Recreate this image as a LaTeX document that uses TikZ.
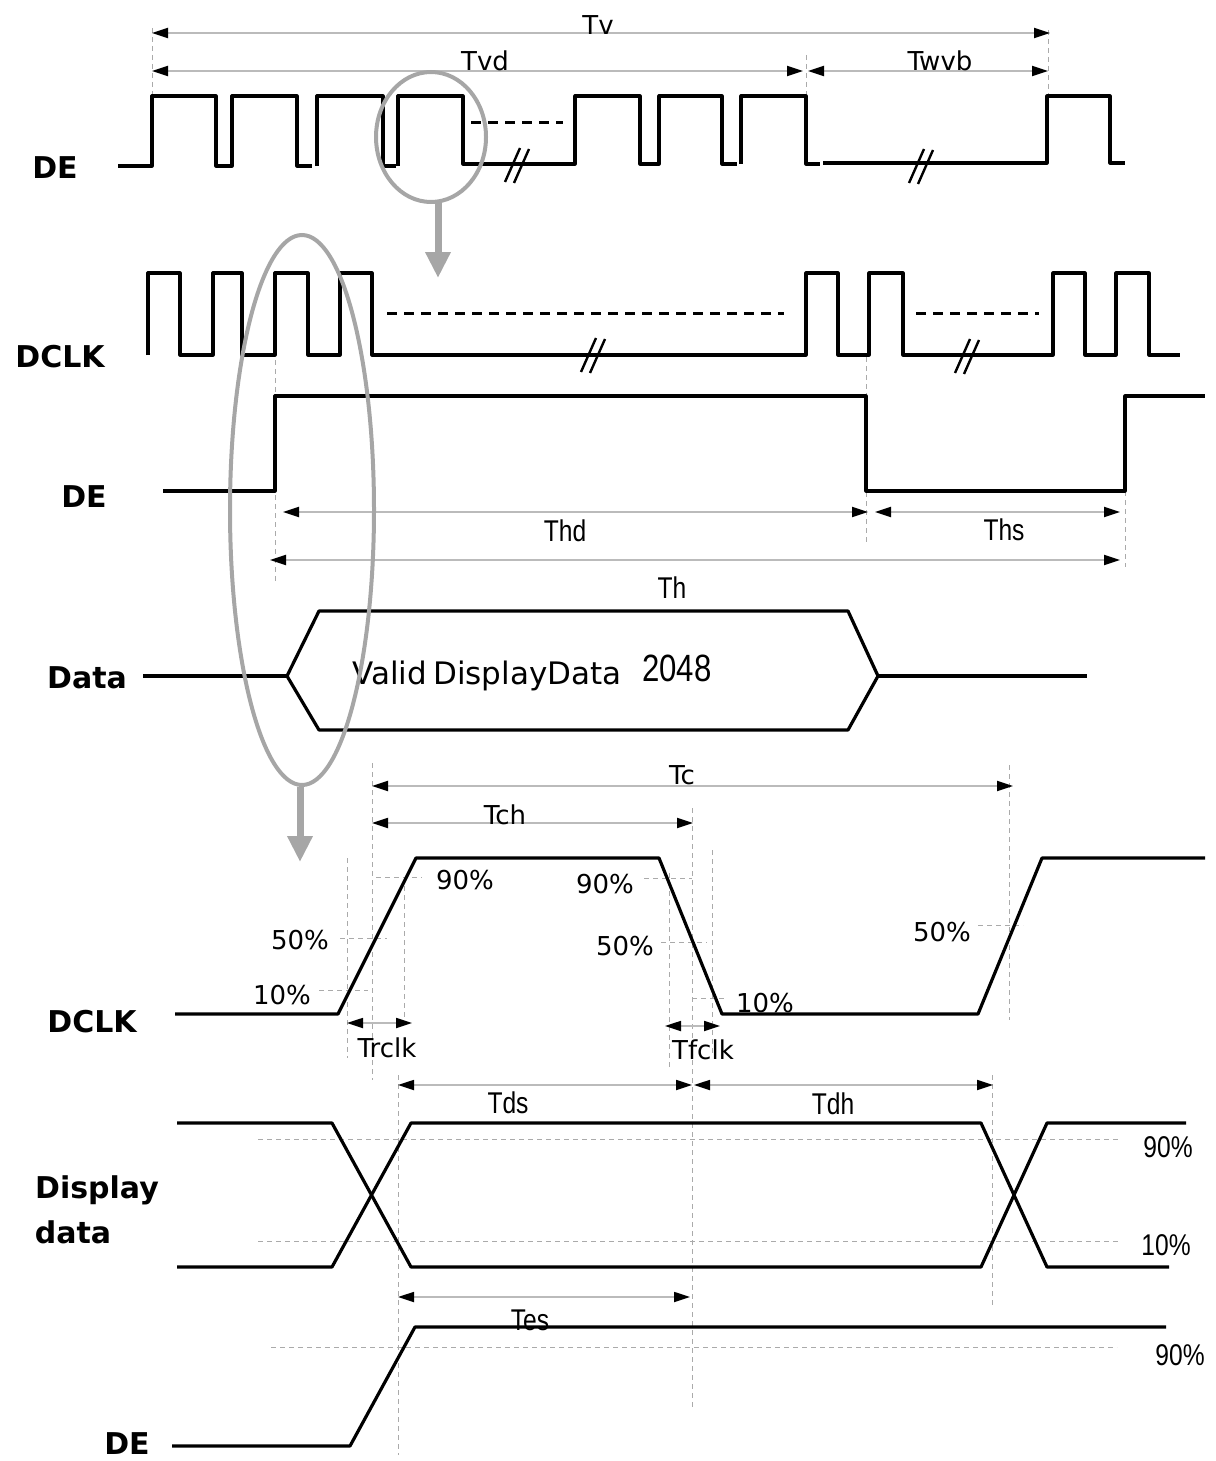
\documentclass[tikz,border=0pt]{standalone}
\usepackage{fontspec}
\usepackage{graphicx}
\usetikzlibrary{arrows.meta}
\newfontfamily\labfont{DejaVu Sans}
\newfontfamily\narfont{Liberation Sans}
\newcommand{\cond}[1]{\scalebox{0.82}[1]{#1}}
\definecolor{dimgray}{HTML}{BBBBBB}
\definecolor{guidegray}{HTML}{AAAAAA}
\definecolor{hiligray}{HTML}{A6A6A6}
\tikzset{
  sig/.style={line width=1.6pt, line join=round, line cap=butt},
  dimline/.style={draw=dimgray, line width=0.9pt,
    {Triangle[length=8pt,width=5pt,color=black]}-{Triangle[length=8pt,width=5pt,color=black]}},
  guide/.style={draw=guidegray, line width=0.45pt, dash pattern=on 2.5pt off 2pt},
  dashsig/.style={line width=1.5pt, dash pattern=on 5pt off 3.5pt},
  hilite/.style={draw=hiligray, line width=2pt},
  zoomarrow/.style={draw=hiligray, line width=3.5pt, -{Triangle[length=13pt,width=12pt]}},
  brk/.style={line width=1.2pt},
  siglabel/.style={font=\labfont\bfseries\fontsize{15}{17}\selectfont, inner sep=0pt},
  tlabel/.style={font=\labfont\fontsize{13}{15}\selectfont, inner sep=0pt},
  nlabel/.style={font=\narfont\fontsize{15}{17}\selectfont, inner sep=0pt},
}
\newcommand{\brkmark}[2]{%
  \draw[brk] (#1-13,#2+17) -- (#1+2,#2-17);
  \draw[brk] (#1-4,#2+18) -- (#1+11,#2-16);}
\begin{document}
\begin{tikzpicture}[x=0.5pt,y=-0.5pt]
\useasboundingbox (0,0) rectangle (1215,1461);

% ================= top DE (frame) =================
\node[siglabel] (lDE1) at (55,168) {DE};
\draw[guide] (152,28) -- (152,95);
\draw[guide] (806,55) -- (806,95);
\draw[guide] (1048,30) -- (1048,95);
\draw[dimline] (152,33) coordinate (tvA) -- (1050,33) coordinate (tvB);
\draw[dimline] (152,71) coordinate (tvdA) -- (803,71) coordinate (tvdB);
\draw[dimline] (808,71) coordinate (twA) -- (1048,71) coordinate (twB);
\node[tlabel] (lTv) at (598,25) {Tv};
\node[tlabel] (lTvd) at (485,61) {Tvd};
\node[tlabel] (lTwvb) at (940,61) {Twvb};

\draw[sig] (118,166) -- (152,166) -- (152,96) -- (216,96) -- (216,166) -- (232,166) -- (232,96)
  -- (297,96) -- (297,166) -- (312,166);
\draw[sig] (317,166) -- (317,96) -- (383,96) -- (383,166) -- (396,166);
\draw[sig] (398,166) -- (398,96) -- (463,96) -- (463,164) -- (575,164) -- (575,96) -- (640,96)
  -- (640,164) -- (659,164) -- (659,96) -- (722,96) -- (722,164) -- (737,164);
\draw[sig] (741,164) -- (741,96) -- (806,96) -- (806,164) -- (820,164);
\draw[sig] (823,163) -- (1047,163) -- (1047,96) -- (1110,96) -- (1110,163) -- (1125,163);
\draw[dashsig] (471,123) -- (563,123);
\brkmark{518}{165}
\brkmark{922}{166}

\draw[hilite] (431,137) ellipse [x radius=55, y radius=65];
\draw[zoomarrow] (438,203) -- (438,278);

% ================= DCLK (line) =================
\node[siglabel] (lDCLK1) at (60,357) {DCLK};
\draw[sig] (148,355) -- (148,273) -- (180,273) -- (180,355) -- (213,355) -- (213,273) -- (242,273)
  -- (242,355) -- (275,355) -- (275,273) -- (308,273) -- (308,355) -- (340,355) -- (340,273)
  -- (372,273) -- (372,355) -- (806,355) -- (806,273) -- (838,273) -- (838,355) -- (869,355)
  -- (869,273) -- (903,273) -- (903,355) -- (1053,355) -- (1053,273) -- (1085,273) -- (1085,355)
  -- (1116,355) -- (1116,273) -- (1149,273) -- (1149,355) -- (1180,355);
\draw[dashsig] (387,313) -- (784,313);
\draw[dashsig] (916,313) -- (1039,313);
\brkmark{594}{355}
\brkmark{968}{356}

% ================= DE (line) =================
\node[siglabel] (lDE2) at (84,497) {DE};
\draw[guide] (275,360) -- (275,582);
\draw[guide] (866,357) -- (866,545);
\draw[guide] (1125,491) -- (1125,567);
\draw[sig] (163,491) -- (275,491) -- (275,396) -- (866,396) -- (866,491) -- (1125,491) -- (1125,396) -- (1205,396);
\draw[dimline] (283,512) coordinate (thdA) -- (868,512) coordinate (thdB);
\draw[dimline] (875,512) coordinate (thsA) -- (1120,512) coordinate (thsB);
\draw[dimline] (270,560) coordinate (thA) -- (1120,560) coordinate (thB);
\node[nlabel] (lThd) at (565,531) {\cond{Thd}};
\node[nlabel] (lThs) at (1004,530) {\cond{Ths}};
\node[nlabel] (lTh) at (672,588) {\cond{Th}};

% ================= Data =================
\node[siglabel] (lData) at (87,678) {Data};
\draw[sig] (143,676) -- (287,676);
\draw[sig] (287,676) -- (319,611) -- (848,611) -- (878,676) -- (848,730) -- (319,730) -- cycle;
\draw[sig] (878,676) -- (1087,676);
\node[font=\labfont\fontsize{15.5}{17}\selectfont, inner sep=0pt] (lValid) at (487,676) {Valid\hspace{3pt}DisplayData};
\node[font=\narfont\fontsize{19}{21}\selectfont, inner sep=0pt] (l2048) at (677,668) {\cond{2048}};

\draw[hilite] (302,510) ellipse [x radius=72, y radius=275];
\draw[zoomarrow] (300,787) -- (300,862);

% ================= DCLK detail =================
\node[siglabel] (lDCLK2) at (92,1022) {DCLK};
\draw[guide] (347,858) -- (347,1058);
\draw[guide] (372,763) -- (372,1080);
\draw[guide] (404,877) -- (404,1025);
\draw[guide] (669,873) -- (669,1070);
\draw[guide] (692,808) -- (692,1410);
\draw[guide] (712,850) -- (712,1055);
\draw[guide] (1009,765) -- (1009,1020);
\draw[guide] (319,990) -- (368,990);
\draw[guide] (340,938) -- (387,938);
\draw[guide] (376,877) -- (422,877);
\draw[guide] (644,878) -- (692,878);
\draw[guide] (661,942) -- (707,942);
\draw[guide] (692,998) -- (724,998);
\draw[guide] (978,925) -- (1023,925);
\draw[dimline] (372,786) coordinate (tcA) -- (1013,786) coordinate (tcB);
\draw[dimline] (372,823) coordinate (tchA) -- (693,823) coordinate (tchB);
\node[tlabel] (lTc) at (682,775) {Tc};
\node[tlabel] (lTch) at (505,815) {Tch};
\draw[sig] (175,1014) -- (338,1014) -- (416,858) -- (659,858) -- (722,1014) -- (978,1014) -- (1042,858) -- (1205,858);
\node[tlabel] (p1) at (300,940) {50\%};
\node[tlabel] (p2) at (282,995) {10\%};
\node[tlabel] (p3) at (465,880) {90\%};
\node[tlabel] (p4) at (605,884) {90\%};
\node[tlabel] (p5) at (625,946) {50\%};
\node[tlabel] (p6) at (765,1003) {10\%};
\node[tlabel] (p7) at (942,932) {50\%};
\draw[dimline] (347,1023) coordinate (trA) -- (412,1023) coordinate (trB);
\draw[dimline] (665,1026) coordinate (tfA) -- (720,1026) coordinate (tfB);
\node[tlabel] (lTrclk) at (387,1048) {Trclk};
\node[tlabel] (lTfclk) at (703,1050) {Tfclk};

% ================= Display data =================
\node[siglabel] (lDisp1) at (97,1190) {Display};
\node[siglabel] (lDisp2) at (73,1232) {data};
\draw[guide] (398,1075) -- (398,1455);
\draw[guide] (992,1075) -- (992,1305);
\draw[guide] (258,1139) -- (1120,1139);
\draw[guide] (258,1241) -- (1120,1241);
\draw[dimline] (398,1085) coordinate (tdsA) -- (692,1085) coordinate (tdsB);
\draw[dimline] (694,1085) coordinate (tdhA) -- (993,1085) coordinate (tdhB);
\node[nlabel] (lTds) at (508,1103) {\cond{Tds}};
\node[nlabel] (lTdh) at (833,1104) {\cond{Tdh}};
\draw[sig] (177,1123) -- (332,1123) -- (411,1267) -- (981,1267) -- (1047,1123) -- (1186,1123);
\draw[sig] (177,1267) -- (332,1267) -- (411,1123) -- (981,1123) -- (1047,1267) -- (1169,1267);
\node[nlabel] (p8) at (1168,1147) {\cond{90\%}};
\node[nlabel] (p9) at (1166,1245) {\cond{10\%}};

% ================= DE detail =================
\node[siglabel] (lDE3) at (127,1444) {DE};
\draw[guide] (271,1347) -- (1117,1347);
\draw[dimline] (398,1297) coordinate (tesA) -- (690,1297) coordinate (tesB);
\node[nlabel] (lTes) at (530,1320) {\cond{Tes}};
\draw[sig] (172,1446) -- (350,1446) -- (415,1327) -- (1166,1327);
\node[nlabel] (p10) at (1180,1355) {\cond{90\%}};
\end{tikzpicture}
\end{document}
